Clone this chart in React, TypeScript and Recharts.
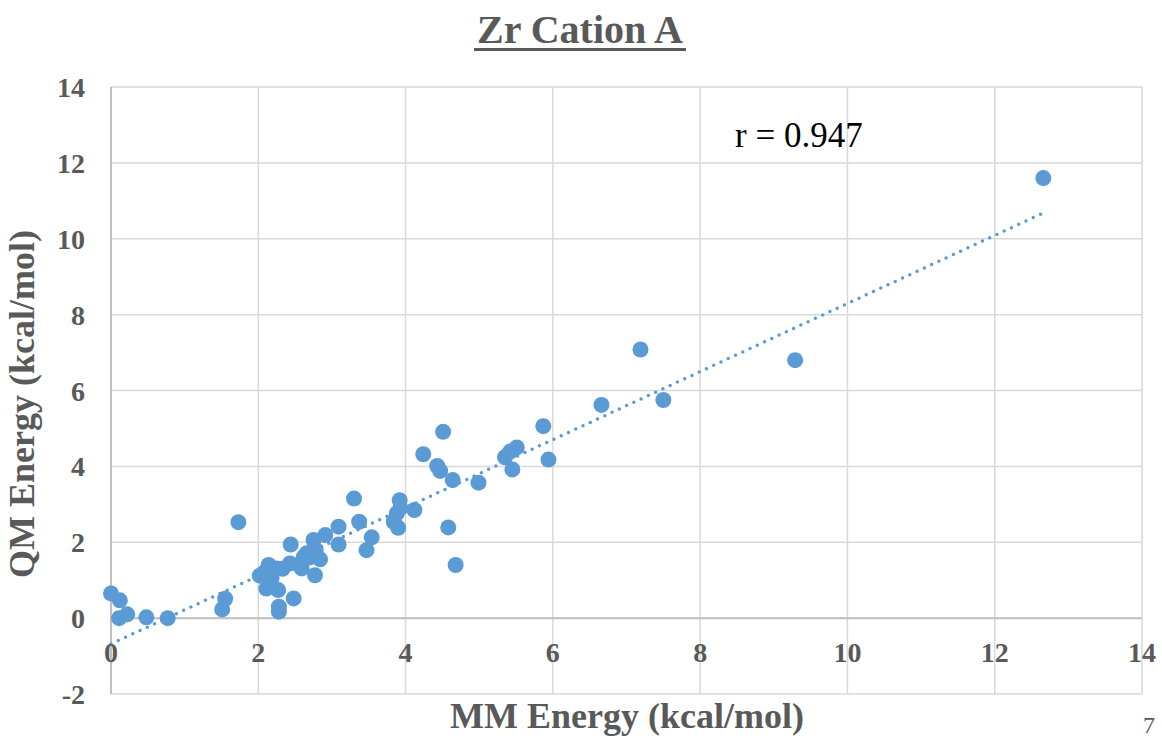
import {
  ScatterChart,
  Scatter,
  XAxis,
  YAxis,
  CartesianGrid,
  ReferenceLine,
} from 'recharts';

// MM vs QM energies (kcal/mol)
const mmEnergy = [
  0.0, 0.12, 0.11, 0.22, 0.48, 0.77, 1.51, 1.55, 1.73, 2.02, 2.07, 2.11, 2.14, 2.11,
  2.18, 2.2, 2.25, 2.27, 2.28, 2.28, 2.33, 2.43, 2.44, 2.48, 2.59, 2.6, 2.62, 2.66,
  2.7, 2.72, 2.75, 2.77, 2.78, 2.84, 2.91, 3.09, 3.09, 3.3, 3.37, 3.47, 3.54, 3.84,
  3.88, 3.9, 3.92, 3.93, 4.12, 4.24, 4.43, 4.47, 4.51, 4.58, 4.64, 4.68, 4.99, 5.35,
  5.42, 5.51, 5.45, 5.87, 5.94, 6.66, 7.19, 7.5, 9.29, 12.66,
];
const qmEnergy = [
  0.65, 0.47, 0.0, 0.1, 0.02, 0.0, 0.23, 0.51, 2.53, 1.12, 1.18, 1.25, 1.4, 0.78,
  1.05, 1.22, 1.31, 0.74, 0.3, 0.17, 1.3, 1.44, 1.94, 0.52, 1.31, 1.5, 1.62, 1.71,
  1.6, 1.75, 2.06, 1.13, 1.8, 1.55, 2.19, 2.41, 1.94, 3.15, 2.54, 1.79, 2.13, 2.54,
  2.76, 2.38, 3.11, 2.9, 2.85, 4.32, 4.01, 3.88, 4.91, 2.39, 3.64, 1.4, 3.57, 4.24,
  4.39, 4.5, 3.92, 5.06, 4.18, 5.62, 7.08, 5.75, 6.8, 11.6,
];

// linear trendline end points
const trendX = [0, 12.66];
const trendY = [-0.68, 10.68];

const xTicks = [0, 2, 4, 6, 8, 10, 12, 14];
const yTicks = [-2, 0, 2, 4, 6, 8, 10, 12, 14];

const points = mmEnergy.map((x, i) => ({ x, y: qmEnergy[i] }));
const trend = trendX.map((x, i) => ({ x, y: trendY[i] }));

const BLUE = '#5B9BD5';
const TEXT = '#595959';
const FONT = 'Liberation Serif, DejaVu Serif, serif';

const XTick = ({ x, y, payload }: any) => (
  <text x={x} y={y} dy={-32} textAnchor="middle" fill={TEXT} fontSize={28} fontWeight="bold" fontFamily={FONT}>
    {payload.value}
  </text>
);

const YTick = ({ x, y, payload }: any) => (
  <text x={x} y={y} dy={10} textAnchor="end" fill={TEXT} fontSize={28} fontWeight="bold" fontFamily={FONT}>
    {payload.value}
  </text>
);

const Dot = ({ cx, cy }: any) => <circle cx={cx} cy={cy} r={8} fill={BLUE} />;

const App = () => {
  return (
    <div style={{ position: 'absolute', left: 0, top: 0, width: 1162, height: 738, background: '#fff' }}>
      <ScatterChart width={1162} height={738} margin={{ top: 87, right: 20, bottom: 0, left: 0 }}>
        <CartesianGrid stroke="#d9d9d9" strokeWidth={1.5} />
        <XAxis
          type="number"
          dataKey="x"
          domain={[0, 14]}
          ticks={xTicks}
          height={44}
          axisLine={false}
          tickLine={false}
          tickSize={0}
          tickMargin={0}
          tick={<XTick />}
          interval={0}
        />
        <YAxis
          type="number"
          dataKey="y"
          domain={[-2, 14]}
          ticks={yTicks}
          width={111}
          axisLine={false}
          tickLine={false}
          tickSize={0}
          tickMargin={26}
          tick={<YTick />}
          interval={0}
        />
        <ReferenceLine x={0} stroke="#bfbfbf" strokeWidth={2} />
        <ReferenceLine y={0} stroke="#bfbfbf" strokeWidth={2} />
        <Scatter data={points} shape={<Dot />} isAnimationActive={false} />
        <Scatter
          data={trend}
          shape={() => <g />}
          line={{ stroke: BLUE, strokeWidth: 3.5, strokeDasharray: '0 8', strokeLinecap: 'round' }}
          isAnimationActive={false}
        />
      </ScatterChart>
      <svg width={1162} height={738} style={{ position: 'absolute', left: 0, top: 0, pointerEvents: 'none' }}>
        <text x={580} y={43} textAnchor="middle" fill={TEXT} fontSize={40} fontWeight="bold" fontFamily={FONT}>
          Zr Cation A
        </text>
        <rect x={474} y={48} width={212} height={3} fill={TEXT} />
        <text x={735} y={147} fill="#000" fontSize={35} fontFamily={FONT}>
          r = 0.947
        </text>
        <text x={627} y={728} textAnchor="middle" fill={TEXT} fontSize={36} fontWeight="bold" fontFamily={FONT}>
          MM Energy (kcal/mol)
        </text>
        <text
          x={0}
          y={0}
          transform="translate(34,404) rotate(-90)"
          textAnchor="middle"
          fill={TEXT}
          fontSize={36}
          fontWeight="bold"
          fontFamily={FONT}
        >
          QM Energy (kcal/mol)
        </text>
        <text x={1143} y={733} fill={TEXT} fontSize={24} fontFamily={FONT}>
          7
        </text>
      </svg>
    </div>
  );
};

export default App;
